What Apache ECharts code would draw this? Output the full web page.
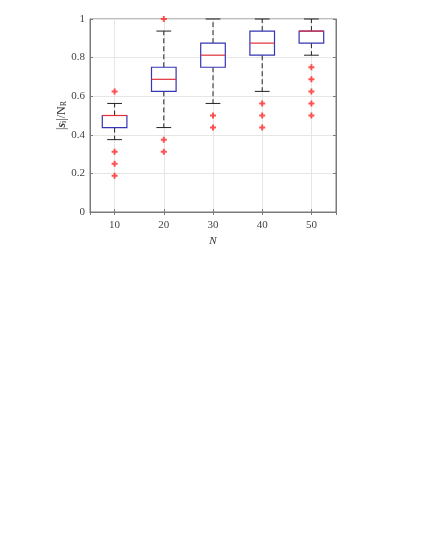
<!DOCTYPE html>
<html><head><meta charset="utf-8">
<script src="https://cdn.jsdelivr.net/npm/echarts@6/dist/echarts.min.js"></script>
<style>html,body{margin:0;padding:0;background:#fff}#c{width:425px;height:550px}</style>
</head><body><div id="c"></div>
<script>
const categories = [10, 20, 30, 40, 50];
const q1 = [0.4375, 0.625, 0.75, 0.8125, 0.875];
const median = [0.5, 0.6875, 0.8125, 0.875, 0.9375];
const q3 = [0.5, 0.75, 0.875, 0.9375, 0.9375];
const whiskerLow = [0.375, 0.4375, 0.5625, 0.625, 0.8125];
const whiskerHigh = [0.5625, 0.9375, 1, 1, 1];
const outliers = [
  [0.625, 0.3125, 0.25, 0.1875],
  [1, 0.375, 0.3125],
  [0.5, 0.4375],
  [0.5625, 0.5, 0.4375],
  [0.75, 0.6875, 0.625, 0.5625, 0.5]
];

const boxData = categories.map((c, i) => [c, whiskerLow[i], q1[i], median[i], q3[i], whiskerHigh[i]]);
const outData = [];
categories.forEach((c, i) => outliers[i].forEach(v => outData.push([c, v])));

const font = '"Liberation Serif", "DejaVu Serif", serif';
const chart = echarts.init(document.getElementById('c'));

function renderBox(params, api) {
  const x = api.value(0);
  const halfBox = 2.5, halfCap = 1.5;
  const pLow = api.coord([x, api.value(1)]);
  const pQ1 = api.coord([x, api.value(2)]);
  const pMed = api.coord([x, api.value(3)]);
  const pQ3 = api.coord([x, api.value(4)]);
  const pHigh = api.coord([x, api.value(5)]);
  const bl = api.coord([x - halfBox, 0])[0], br = api.coord([x + halfBox, 0])[0];
  const cl = api.coord([x - halfCap, 0])[0], cr = api.coord([x + halfCap, 0])[0];
  const dash = {stroke: '#222', lineWidth: 1, lineDash: [5, 3]};
  const solid = {stroke: '#222', lineWidth: 1};
  return {
    type: 'group',
    children: [
      {type: 'line', shape: {x1: pQ3[0], y1: pQ3[1], x2: pHigh[0], y2: pHigh[1]}, style: dash},
      {type: 'line', shape: {x1: pQ1[0], y1: pQ1[1], x2: pLow[0], y2: pLow[1]}, style: dash},
      {type: 'line', shape: {x1: cl, y1: pHigh[1], x2: cr, y2: pHigh[1]}, style: solid},
      {type: 'line', shape: {x1: cl, y1: pLow[1], x2: cr, y2: pLow[1]}, style: solid},
      {type: 'rect', shape: {x: bl, y: pQ3[1], width: br - bl, height: pQ1[1] - pQ3[1]},
        style: {fill: '#fff', stroke: '#3535b5', lineWidth: 1.2}},
      {type: 'line', shape: {x1: bl, y1: pMed[1], x2: br, y2: pMed[1]}, style: {stroke: '#e0303a', lineWidth: 1.2}}
    ]
  };
}

const axisCommon = {
  axisLine: {show: true, lineStyle: {color: '#7a7a7a', width: 1}},
  axisTick: {show: true, inside: true, length: 3, lineStyle: {color: '#7a7a7a'}},
};

chart.setOption({
  animation: false,
  backgroundColor: '#fff',
  grid: {left: 90, right: 89, top: 19, bottom: 338, show: true, borderColor: '#7a7a7a', borderWidth: 1, backgroundColor: 'transparent'},
  xAxis: [{
    type: 'value', min: 5, max: 55, splitNumber: 5,
    ...axisCommon,
    axisLabel: {showMinLabel: false, showMaxLabel: false, color: '#444', fontFamily: font, fontSize: 11, margin: 8},
    splitLine: {show: true, lineStyle: {color: '#e6e6e6'}},
    name: 'N', nameLocation: 'middle', nameGap: 24, nameMoveOverlap: false,
    nameTextStyle: {fontFamily: font, fontStyle: 'italic', fontSize: 11, color: '#333'}
  }, {
    type: 'value', min: 5, max: 55, splitNumber: 5, position: 'top',
    ...axisCommon, axisLabel: {show: false}, splitLine: {show: false}
  }],
  yAxis: [{
    type: 'value', min: 0, max: 1, interval: 0.2,
    ...axisCommon,
    axisLabel: {color: '#444', fontFamily: font, fontSize: 11, margin: 5,
      formatter: v => String(+v.toFixed(1))},
    splitLine: {show: true, lineStyle: {color: '#e6e6e6'}},
    name: '|{b|s}{sub|i}|/N{sub|R}', nameLocation: 'middle', nameGap: 22, nameMoveOverlap: false,
    nameTextStyle: {fontFamily: font, fontSize: 12, color: '#333',
      rich: {
        b: {fontFamily: font, fontWeight: 'bold', fontStyle: 'italic', fontSize: 12, color: '#333'},
        sub: {fontFamily: font, fontSize: 8, color: '#333', verticalAlign: 'bottom', padding: [5, 0, 0, 0]}
      }}
  }, {
    type: 'value', min: 0, max: 1, interval: 0.2, position: 'right',
    ...axisCommon, axisLabel: {show: false}, splitLine: {show: false}
  }],
  series: [{
    type: 'custom',
    renderItem: renderBox,
    data: boxData,
    encode: {x: 0, y: [1, 2, 3, 4, 5]},
    z: 3
  }, {
    type: 'scatter',
    data: outData,
    symbol: 'path://M2,0H4V2H6V4H4V6H2V4H0V2H2Z',
    symbolSize: 6,
    itemStyle: {color: '#ff2828'},
    z: 4
  }]
});
</script></body></html>
